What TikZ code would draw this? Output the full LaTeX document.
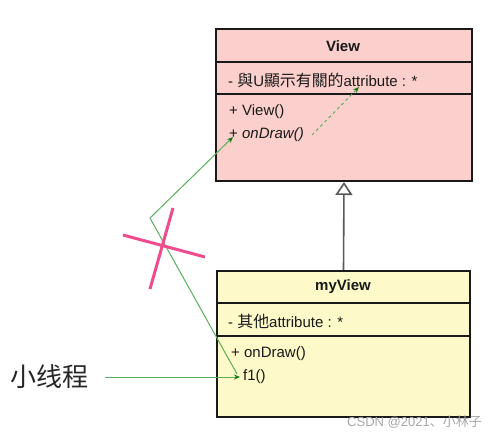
\documentclass[tikz,border=0pt]{standalone}
\usepackage{fontspec}
\setmainfont{Liberation Sans}
\newfontfamily\cjktc[Scale=1.06]{Noto Sans CJK TC}
\newfontfamily\cjksc{Noto Sans CJK SC}
\usetikzlibrary{arrows.meta,calc}
\definecolor{viewpink}{RGB}{251,208,204}
\definecolor{myyellow}{RGB}{254,249,200}
\definecolor{linkgreen}{RGB}{90,175,90}
\definecolor{tipgreen}{RGB}{20,120,20}
\definecolor{crosspink}{RGB}{240,75,140}
\definecolor{inkdark}{RGB}{25,25,25}
\begin{document}
\begin{tikzpicture}[x=1pt,y=-1pt,
  classbox/.style={draw=inkdark,line width=2pt,anchor=north west,inner sep=0pt},
  sepline/.style={draw=inkdark,line width=1.2pt},
  member/.style={anchor=west,inner sep=0pt,text=inkdark,font=\fontsize{15}{17}\selectfont},
  titletext/.style={inner sep=0pt,text=inkdark,font=\fontsize{15}{17}\selectfont\bfseries},
  link/.style={draw=linkgreen,line width=1pt},
  gtip/.style={-{Stealth[length=6pt,width=5pt,color=tipgreen,fill=tipgreen]}},
  inherit/.style={draw=black!65,line width=1.6pt,-{Triangle[open,length=13pt,width=17pt,fill=white]}},
  crossline/.style={draw=crosspink,line width=3pt},
]
\useasboundingbox (0,0) rectangle (497,437);
% View class
\node[classbox,fill=viewpink,minimum width=256pt,minimum height=152pt] (view) at (215,28) {};
\draw[sepline] ($(view.north west)+(0,34)$) -- ($(view.north east)+(0,34)$);
\draw[sepline] ($(view.north west)+(0,66)$) -- ($(view.north east)+(0,66)$);
\node[titletext] (viewtitle) at (343,46) {View};
\node[member] (viewattr) at (228,80) {- {\cjktc 與}U{\cjktc 顯示有關的}attribute : *};
\node[member] (viewctor) at (229,112) {+ View()};
\node[member] (viewdraw) at (229,135) {+ \textit{onDraw()}};
% myView class
\node[classbox,fill=myyellow,minimum width=253pt,minimum height=146pt] (myview) at (216,270) {};
\draw[sepline] ($(myview.north west)+(0,33)$) -- ($(myview.north east)+(0,33)$);
\draw[sepline] ($(myview.north west)+(0,66)$) -- ($(myview.north east)+(0,66)$);
\node[titletext] (myviewtitle) at (343,287) {myView};
\node[member] (myviewattr) at (228,321) {- {\cjktc 其他}attribute : *};
\node[member] (myviewdraw) at (231,354) {+ onDraw()};
\node[member] (f1) at (243,377) {f1()};
% inheritance
\draw[inherit] (myview.north) -- (view.south);
% label
\node[inner sep=0pt,text=black!85,font=\cjksc\fontsize{26}{28}\selectfont] (thread) at (49,377) {小线程};
% green connectors
\coordinate (bend) at (150,218);
\coordinate (attrtip) at (359,87);
\draw[link,gtip] ($(f1.west)+(-6,-3)$) -- (bend) -- ($(viewdraw.west)+(4,2)$);
\draw[link,gtip,shorten <=17pt,shorten >=3pt] (thread.east) -- (f1.west);
\draw[link,dashed,gtip] ($(viewdraw.east)+(8,0)$) -- (attrtip);
% cross
\draw[crossline] (123,235) -- (205,257);
\draw[crossline] (173,208) -- (150,289);
% watermark
\node[anchor=east,inner sep=0pt,text=black!35,font=\fontsize{13}{15}\selectfont] (mark) at (482,422) {CSDN @2021{\cjksc 、小林子}};
\end{tikzpicture}
\end{document}
